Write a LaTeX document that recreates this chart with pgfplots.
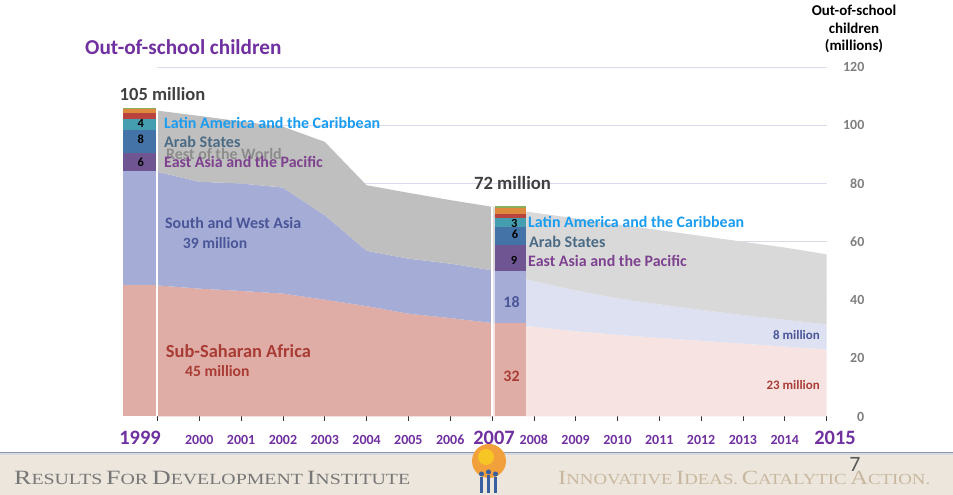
\documentclass[border=0pt]{standalone}
\usepackage{pgfplots}
\pgfplotsset{compat=1.18}
\usepackage{fontspec}
\setmainfont{Carlito}
\newfontfamily\footserif{Liberation Serif}

\definecolor{ssaD}{HTML}{E0ACA6}
\definecolor{ssaL}{HTML}{F7E4E2}
\definecolor{swaD}{HTML}{A5ADD6}
\definecolor{swaL}{HTML}{DEE1F1}
\definecolor{rowD}{HTML}{BFBFBF}
\definecolor{rowL}{HTML}{D9D9D9}
\definecolor{eapB}{HTML}{6F5591}
\definecolor{arabB}{HTML}{4473A8}
\definecolor{lacB}{HTML}{459DB0}
\definecolor{redB}{HTML}{B9443F}
\definecolor{oraB}{HTML}{DD8A3E}
\definecolor{greB}{HTML}{8AAE5A}
\definecolor{gridc}{HTML}{D8DBEE}
\definecolor{tLAC}{HTML}{1A9CF0}
\definecolor{tArab}{HTML}{4B6B85}
\definecolor{tRow}{HTML}{8C8C8C}
\definecolor{tEAP}{HTML}{7E418F}
\definecolor{tSWA}{HTML}{4A5598}
\definecolor{tSSA}{HTML}{A83C35}
\definecolor{purp}{HTML}{7030A0}
\definecolor{tickg}{HTML}{7F7F7F}
\definecolor{bigg}{HTML}{404040}
\definecolor{footbg}{HTML}{ECE6DC}
\definecolor{footline}{HTML}{8E97A8}
\definecolor{foottxt}{HTML}{777777}
\definecolor{foottan}{HTML}{C9B8A0}
\definecolor{logoO}{HTML}{F2A03C}
\definecolor{logoB}{HTML}{3A5FA0}

\newcommand\fs[1]{\fontsize{#1}{#1}\selectfont\bfseries}
\newcommand\barseg[5]{\addplot[fill=#1,draw=none] coordinates {(#2,#4) (#3,#4) (#3,#5) (#2,#5)} -- cycle;}

\begin{document}
\begin{tikzpicture}[x=1bp,y=1bp]
\useasboundingbox (0,0) rectangle (953,495);
\fill[white] (0,0) rectangle (953,495);
% footer band
\fill[footbg] (0,0) rectangle (953,42.5);
\fill[footline] (0,41.8) rectangle (953,43.3);
\fill[footline!35!white] (0,40.3) rectangle (953,41.8);

\begin{axis}[
  at={(123bp,78.5bp)}, anchor=south west,
  scale only axis, width=703.5bp, height=349.5bp,
  xmin=1998.175, xmax=2015, ymin=0, ymax=120,
  clip=false,
  axis line style={draw=none},
  xtick={1999,2000,2001,2002,2003,2004,2005,2006,2007,2008,2009,2010,2011,2012,2013,2014,2015},
  xticklabels={,2000,2001,2002,2003,2004,2005,2006,,2008,2009,2010,2011,2012,2013,2014,},
  xtick pos=bottom,
  tick align=outside,
  major tick length=4.5bp,
  xtick style={black!80, line width=0.6bp},
  xticklabel style={font=\fs{14}, text=purp, anchor=base, yshift=-24bp},
  ytick={0,20,40,60,80,100,120},
  ytick pos=right, yticklabel pos=right,
  ytick style={draw=none},
  yticklabel style={font=\fs{14}, text=tickg, anchor=east, inner sep=0pt, xshift=33.5bp},
  /pgf/number format/assume math mode=true,
]
% grid lines
\addplot[gridc, line width=0.8bp] coordinates {(1999,20) (2015,20)};
\addplot[gridc, line width=0.8bp] coordinates {(1999,40) (2015,40)};
\addplot[gridc, line width=0.8bp] coordinates {(1999,60) (2015,60)};
\addplot[gridc, line width=0.8bp] coordinates {(1999,80) (2015,80)};
\addplot[gridc, line width=0.8bp] coordinates {(1999,100) (2015,100)};
\addplot[gridc, line width=0.8bp] coordinates {(1999,120) (2015,120)};
% dark (actual) areas: Sub-Saharan Africa
\addplot[fill=ssaD, draw=none] coordinates {
 (1999,0) (1999,45.0) (2000,43.9) (2001,43.1) (2002,42.2) (2003,40.1) (2004,37.9) (2005,35.3) (2006,33.8) (2007,32.1) (2007,0)} -- cycle;
% South and West Asia (cumulative top, then SSA top reversed)
\addplot[fill=swaD, draw=none] coordinates {
 (1999,84.0) (2000,80.6) (2001,80.0) (2002,78.6) (2003,69.1) (2004,56.9) (2005,54.2) (2006,52.5) (2007,50.2)
 (2007,32.1) (2006,33.8) (2005,35.3) (2004,37.9) (2003,40.1) (2002,42.2) (2001,43.1) (2000,43.9) (1999,45.0)} -- cycle;
% Rest of the world
\addplot[fill=rowD, draw=none] coordinates {
 (1999,105.0) (2000,103.2) (2001,101.3) (2002,99.5) (2003,94.3) (2004,79.4) (2005,76.8) (2006,74.3) (2007,72.0)
 (2007,50.2) (2006,52.5) (2005,54.2) (2004,56.9) (2003,69.1) (2002,78.6) (2001,80.0) (2000,80.6) (1999,84.0)} -- cycle;
% light (projected) areas
\addplot[fill=ssaL, draw=none] coordinates {
 (2007,0) (2007,32.1) (2008,30.8) (2009,29.3) (2010,28.0) (2011,27.0) (2012,26.0) (2013,25.0) (2014,24.0) (2015,23.0) (2015,0)} -- cycle;
\addplot[fill=swaL, draw=none] coordinates {
 (2007,50.2) (2008,46.5) (2009,43.3) (2010,40.6) (2011,38.5) (2012,36.6) (2013,34.8) (2014,33.2) (2015,31.6)
 (2015,23.0) (2014,24.0) (2013,25.0) (2012,26.0) (2011,27.0) (2010,28.0) (2009,29.3) (2008,30.8) (2007,32.1)} -- cycle;
\addplot[fill=rowL, draw=none] coordinates {
 (2007,72.0) (2008,70.0) (2009,68.0) (2010,66.0) (2011,64.0) (2012,62.0) (2013,60.0) (2014,58.0) (2015,55.7)
 (2015,31.6) (2014,33.2) (2013,34.8) (2012,36.6) (2011,38.5) (2010,40.6) (2009,43.3) (2008,46.5) (2007,50.2)} -- cycle;
% white separators
\addplot[white, line width=1.5bp] coordinates {(1999,0) (1999,105)};
\addplot[white, line width=2.5bp] coordinates {(2007,0) (2007,72)};
% stacked bars 1999
\barseg{ssaD}{1998.175}{1998.964}{0}{45}
\barseg{swaD}{1998.175}{1998.964}{45}{84.3}
\barseg{eapB}{1998.175}{1998.964}{84.3}{90.5}
\barseg{arabB}{1998.175}{1998.964}{90.5}{98.3}
\barseg{lacB}{1998.175}{1998.964}{98.3}{102.1}
\barseg{redB}{1998.175}{1998.964}{102.1}{104.3}
\barseg{oraB}{1998.175}{1998.964}{104.3}{105.5}
\barseg{greB}{1998.175}{1998.964}{105.5}{106.0}
% stacked bars 2007
\barseg{ssaD}{2007.07}{2007.81}{0}{32}
\barseg{swaD}{2007.07}{2007.81}{32}{50}
\barseg{eapB}{2007.07}{2007.81}{50}{58.8}
\barseg{arabB}{2007.07}{2007.81}{58.8}{64.9}
\barseg{lacB}{2007.07}{2007.81}{64.9}{68}
\barseg{redB}{2007.07}{2007.81}{68}{69.5}
\barseg{oraB}{2007.07}{2007.81}{69.5}{71.6}
\barseg{greB}{2007.07}{2007.81}{71.6}{72.1}
\end{axis}

% big year labels
\node[anchor=base, text=purp, inner sep=0] at (140,50) {\fs{20.5}1999};
\node[anchor=base, text=purp, inner sep=0] at (494,50) {\fs{20.5}2007};
\node[anchor=base, text=purp, inner sep=0] at (835,50) {\fs{20.5}2015};

% titles
\node[anchor=west, text=purp, inner sep=0] at (85,448.3) {\fs{21.3}Out-of-school children};
\node[align=center, inner sep=0, font={\fontsize{15}{17.5}\selectfont\bfseries}] at (854,466) {Out-of-school\\children\\(millions)};

\node[text=bigg, inner sep=0] at (162.5,401) {\fs{18.6}105 million};
\node[text=bigg, inner sep=0] at (512.5,312) {\fs{18.8}72 million};

% bar numbers
\node[inner sep=0] at (140.7,371.7) {\fs{12.5}4};
\node[inner sep=0] at (140.7,356) {\fs{12.5}8};
\node[inner sep=0] at (140.7,332.7) {\fs{12.5}6};
\node[inner sep=0] at (514.3,271.7) {\fs{12.5}3};
\node[inner sep=0] at (515,260.7) {\fs{12.5}6};
\node[inner sep=0] at (514,235) {\fs{12.5}9};

% region labels 1999
\node[anchor=west, inner sep=0, text=tLAC] at (164,371.7) {\fs{16}Latin America and the Caribbean};
\node[anchor=west, inner sep=0, text=tRow] at (166,341) {\fs{16}Rest of the World};
\node[anchor=west, inner sep=0, text=tArab] at (164,352.7) {\fs{16.2}Arab States};
\node[anchor=west, inner sep=0, text=tEAP] at (164,332.7) {\fs{16}East Asia and the Pacific};
\node[anchor=west, inner sep=0, text=tSWA] at (165,271.7) {\fs{16}South and West Asia};
\node[anchor=west, inner sep=0, text=tSWA] at (182.7,251.7) {\fs{15.7}39 million};
\node[anchor=west, inner sep=0, text=tSSA] at (165.7,144.3) {\fs{18.5}Sub-Saharan Africa};
\node[anchor=west, inner sep=0, text=tSSA] at (185,124.3) {\fs{15.7}45 million};
% region labels 2007
\node[anchor=west, inner sep=0, text=tLAC] at (528,272.7) {\fs{16}Latin America and the Caribbean};
\node[anchor=west, inner sep=0, text=tArab] at (529,253.3) {\fs{16.2}Arab States};
\node[anchor=west, inner sep=0, text=tEAP] at (528,234) {\fs{16}East Asia and the Pacific};
\node[inner sep=0, text=tSWA] at (511.5,192.7) {\fs{16}18};
\node[inner sep=0, text=tSSA] at (511.5,119) {\fs{16}32};
\node[anchor=east, inner sep=0, text=tSWA] at (820,160) {\fs{13}8 million};
\node[anchor=east, inner sep=0, text=tSSA] at (820,110) {\fs{13}23 million};

% footer content
\node[anchor=west, inner sep=0, text=foottxt] at (14,17) {\resizebox{396bp}{13.3bp}{\footserif{\fontsize{17}{17}\selectfont R}{\fontsize{13}{13}\selectfont ESULTS} {\fontsize{17}{17}\selectfont F}{\fontsize{13}{13}\selectfont OR} {\fontsize{17}{17}\selectfont D}{\fontsize{13}{13}\selectfont EVELOPMENT} {\fontsize{17}{17}\selectfont I}{\fontsize{13}{13}\selectfont NSTITUTE}}};
\node[anchor=west, inner sep=0, text=foottan] at (558,17) {\resizebox{372bp}{13.3bp}{\footserif{\fontsize{17}{17}\selectfont I}{\fontsize{13}{13}\selectfont NNOVATIVE} {\fontsize{17}{17}\selectfont I}{\fontsize{13}{13}\selectfont DEAS.} {\fontsize{17}{17}\selectfont C}{\fontsize{13}{13}\selectfont ATALYTIC} {\fontsize{17}{17}\selectfont A}{\fontsize{13}{13}\selectfont CTION.}}};
\node[inner sep=0, text=black!65] at (855,31) {\fontsize{22}{22}\selectfont 7};
% logo
\fill[logoO] (489,34) circle (17);
\fill[logoO!60!yellow] (486,38) circle (8);
\fill[logoB] (480,2) rectangle (483,18);
\fill[logoB] (487,2) rectangle (490,20);
\fill[logoB] (494,2) rectangle (497,18);
\fill[logoB] (481.5,21) circle (2.5);
\fill[logoB] (488.5,23) circle (2.5);
\fill[logoB] (495.5,21) circle (2.5);
\end{tikzpicture}
\end{document}
